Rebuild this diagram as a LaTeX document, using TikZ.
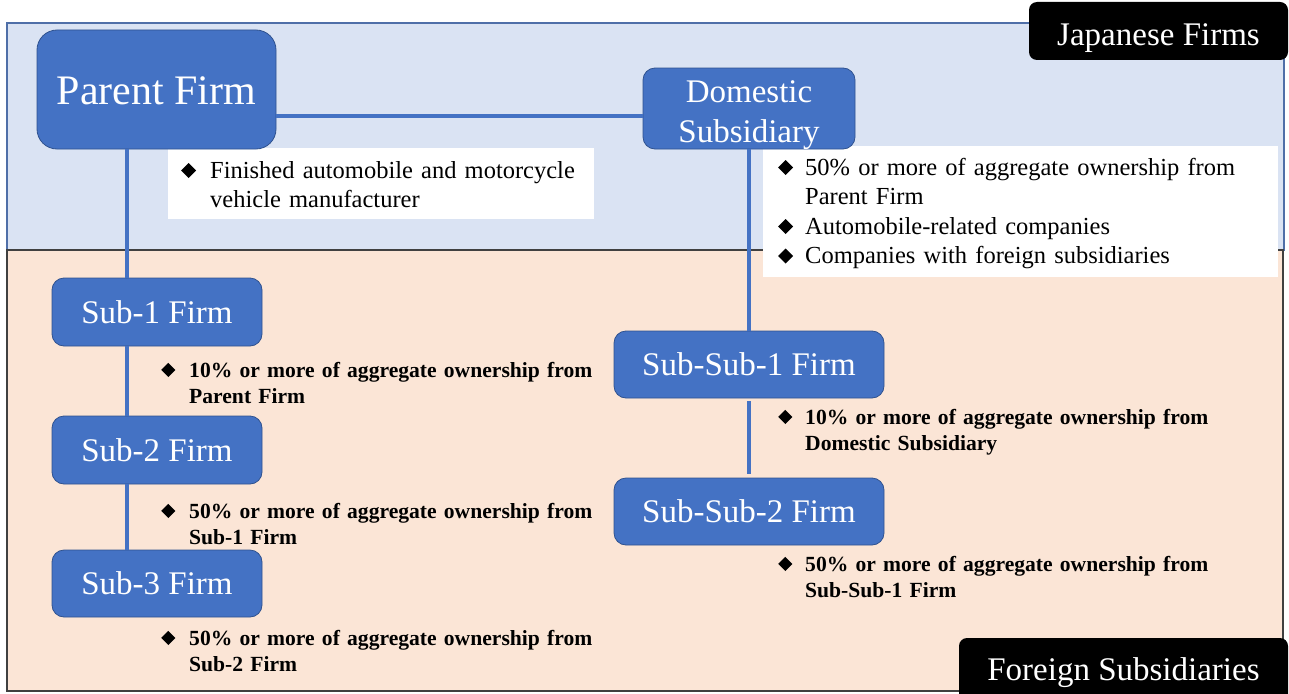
\documentclass[tikz,border=0pt]{standalone}
\usepackage{fontspec}
\setmainfont{Liberation Serif}
\usepackage{graphicx}
\definecolor{topfill}{HTML}{DAE3F3}
\definecolor{botfill}{HTML}{FBE5D6}
\definecolor{boxblue}{HTML}{4472C4}
\definecolor{boxedge}{HTML}{2F528F}
\definecolor{topedge}{HTML}{4F6FA8}
\definecolor{botedge}{HTML}{404040}
\newcommand\dmd[1]{\rotatebox{45}{\rule{#1}{#1}}}
\tikzset{
  firm/.style={fill=boxblue, draw=boxedge, line width=0.8pt, text=white, inner sep=0pt,
    rounded corners=12pt, font=\fontsize{33}{40}\selectfont},
  tag/.style={fill=black, text=white, inner sep=0pt, rounded corners=8pt,
    font=\fontsize{33}{40}\selectfont},
  note/.style={anchor=base west, inner sep=0pt, font=\fontsize{24.5}{29.5}\selectfont},
  bnote/.style={anchor=base west, inner sep=0pt, font=\bfseries\fontsize{21.6}{26.5}\selectfont},
  conn/.style={draw=boxblue, line width=4pt}
}
\begin{document}
\begin{tikzpicture}[x=1pt,y=-1pt]
\useasboundingbox (0,0) rectangle (1289,693);
\fill[white] (0,0) rectangle (1289,693);
% regions
\draw[fill=topfill, draw=topedge, line width=1.3pt] (7,23) rectangle (1284,250);
\draw[fill=botfill, draw=botedge, line width=1.6pt] (7,250) rectangle (1283,691);
% white note backgrounds
\fill[white] (168,148) rectangle (594,219);
\fill[white] (763,146) rectangle (1278,277);
% firms
\node[firm, rounded corners=20pt, minimum width=239pt, minimum height=119pt,
  font=\fontsize{42}{48}\selectfont] (parent) at (156.5,89.5)
  {\raisebox{-1.5pt}[\height][\depth]{Parent Firm}};
\node[firm, minimum width=212pt, minimum height=81pt] (dom) at (749,108.5)
  {\raisebox{-5.5pt}[\height][\depth]{\begin{tabular}{@{}c@{}}Domestic\\Subsidiary\end{tabular}}};
\node[firm, minimum width=210pt, minimum height=68pt] (sub1) at (157,312) {Sub-1 Firm};
\node[firm, minimum width=210pt, minimum height=68pt] (sub2) at (157,450) {Sub-2 Firm};
\node[firm, minimum width=210pt, minimum height=67pt] (sub3) at (157,583.5) {Sub-3 Firm};
\node[firm, minimum width=270pt, minimum height=67pt] (ss1) at (749,364.5) {Sub-Sub-1 Firm};
\node[firm, minimum width=270pt, minimum height=67pt] (ss2) at (749,511.5) {Sub-Sub-2 Firm};
% tags
\node[tag, minimum width=259pt, minimum height=58pt] (jp) at (1158.5,31)
  {\raisebox{-7pt}[\height][\depth]{Japanese Firms}};
\node[tag, minimum width=329pt, minimum height=67pt] (fs) at (1123.5,671.5)
  {\raisebox{-1.5pt}[\height][\depth]{Foreign Subsidiaries}};
% connectors
\coordinate (px) at (127,0);
\coordinate (hy) at (0,116);
\draw[conn] (parent.south -| px) -- (sub1.north -| px);
\draw[conn] (sub1.south -| px) -- (sub2.north -| px);
\draw[conn] (sub2.south -| px) -- (sub3.north -| px);
\draw[conn] (parent.east |- hy) -- (dom.west |- hy);
\draw[conn] (dom.south) -- (ss1.north);
\draw[conn, shorten <=3pt, shorten >=4pt] (ss1.south) -- (ss2.north);
% notes
\node[note, text width=430pt] (pnote) at (181,178)
  {\hangindent=29pt\makebox[29pt][l]{\dmd{10.6pt}}Finished automobile and motorcycle\newline vehicle manufacturer\par};
\node[note, text width=500pt] (dnote) at (778,175)
  {\hangindent=27pt\makebox[27pt][l]{\dmd{10.6pt}}50\% or more of aggregate ownership from\newline Parent Firm\par
   \hangindent=27pt\makebox[27pt][l]{\dmd{10.6pt}}Automobile-related companies\par
   \hangindent=27pt\makebox[27pt][l]{\dmd{10.6pt}}Companies with foreign subsidiaries\par};
\node[bnote, text width=470pt] (n1) at (161,377)
  {\hangindent=28pt\makebox[28pt][l]{\dmd{10pt}}10\% or more of aggregate ownership from\newline Parent Firm\par};
\node[bnote, text width=470pt] (n2) at (161,518)
  {\hangindent=28pt\makebox[28pt][l]{\dmd{10pt}}50\% or more of aggregate ownership from\newline Sub-1 Firm\par};
\node[bnote, text width=470pt] (n3) at (161,645)
  {\hangindent=28pt\makebox[28pt][l]{\dmd{10pt}}50\% or more of aggregate ownership from\newline Sub-2 Firm\par};
\node[bnote, text width=470pt] (n4) at (778,424)
  {\hangindent=27pt\makebox[27pt][l]{\dmd{10pt}}10\% or more of aggregate ownership from\newline Domestic Subsidiary\par};
\node[bnote, text width=470pt] (n5) at (778,571)
  {\hangindent=27pt\makebox[27pt][l]{\dmd{10pt}}50\% or more of aggregate ownership from\newline Sub-Sub-1 Firm\par};
\end{tikzpicture}
\end{document}
